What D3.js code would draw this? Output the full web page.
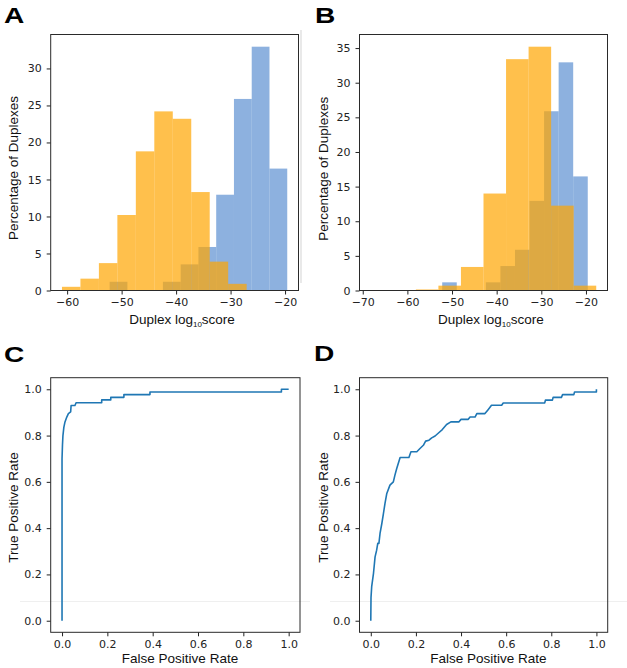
<!DOCTYPE html>
<html>
<head>
<meta charset="utf-8">
<script src="https://cdn.jsdelivr.net/npm/d3@7"></script>
<style>
  html, body { margin: 0; padding: 0; background: #fff; }
  svg { display: block; }
</style>
</head>
<body>
<svg id="chart" width="627" height="668"></svg>
<script>
// ---------- DATA ----------
// Panel A histograms (percent of duplexes per bin)
const blueEdgesA = [-52.2, -19.6];
const blueValuesA = [1.18, 0, 0, 1.18, 3.53, 5.88, 12.94, 25.88, 32.94, 16.47];
const orangeEdgesA = [-60.95, -27.05];
const orangeValuesA = [0.5, 1.6, 3.7, 10.2, 18.8, 24.2, 23.2, 13.3, 3.9, 0.9];
const xTicksA = [-60, -50, -40, -30, -20];
const yTicksA = [0, 5, 10, 15, 20, 25, 30];

// Panel B histograms
const blueEdgesB = [-52.2, -19.6];
const blueValuesB = [1.18, 0, 0, 1.18, 3.53, 5.88, 12.94, 25.88, 32.94, 16.47];
const orangeEdgesB = [-68.2, -17.7];
const orangeValuesB = [0, 0, 0.15, 0.7, 3.4, 14.0, 33.4, 35.2, 12.25, 0.7];
const xTicksB = [-70, -60, -50, -40, -30, -20];
const yTicksB = [0, 5, 10, 15, 20, 25, 30, 35];

// Panel C ROC curve
const fprC = [0, 0, 0.002, 0.004, 0.008, 0.013, 0.021, 0.028, 0.038, 0.040, 0.057, 0.062, 0.175, 0.175, 0.215, 0.215, 0.273, 0.273, 0.388, 0.388, 0.968, 0.968, 1.0];
const tprC = [0, 0.70, 0.76, 0.80, 0.835, 0.859, 0.88, 0.895, 0.902, 0.93, 0.93, 0.942, 0.942, 0.954, 0.954, 0.965, 0.965, 0.977, 0.977, 0.988, 0.988, 1.0, 1.0];

// Panel D ROC curve
const fprD = [0, 0.001, 0.004, 0.012, 0.019, 0.026, 0.031, 0.036, 0.041, 0.049, 0.056, 0.063, 0.071, 0.085, 0.10, 0.107, 0.115, 0.13, 0.169, 0.178, 0.204, 0.218, 0.233, 0.243, 0.258, 0.27, 0.285, 0.30, 0.317, 0.336, 0.355, 0.39, 0.40, 0.432, 0.44, 0.462, 0.47, 0.506, 0.52, 0.535, 0.58, 0.587, 0.771, 0.774, 0.805, 0.808, 0.845, 0.85, 0.90, 0.903, 1.0, 1.0];
const tprD = [0, 0.10, 0.147, 0.205, 0.276, 0.305, 0.334, 0.334, 0.377, 0.42, 0.463, 0.507, 0.55, 0.586, 0.60, 0.629, 0.658, 0.705, 0.705, 0.73, 0.73, 0.744, 0.758, 0.776, 0.78, 0.79, 0.798, 0.811, 0.826, 0.848, 0.859, 0.859, 0.87, 0.87, 0.88, 0.88, 0.895, 0.895, 0.912, 0.931, 0.931, 0.941, 0.941, 0.953, 0.953, 0.965, 0.965, 0.977, 0.977, 0.988, 0.988, 1.0];
const rocTicks = [0, 0.2, 0.4, 0.6, 0.8, 1.0];

// ---------- STYLE ----------
const BLUE = "rgb(92,144,210)";
const ORANGE = "rgb(255,165,0)";
const ALPHA = 0.7;
const LINE = "#1f77b4";
const TICKFONT = "'DejaVu Sans', sans-serif";
const LABELFONT = "'Liberation Sans', Arial, sans-serif";

const svg = d3.select("#chart");

// faint scan artefact lines from the reference
svg.append("line").attr("x1", 301).attr("x2", 301).attr("y1", 30).attr("y2", 283)
  .attr("stroke", "#e2e2e2").attr("stroke-width", 1.5);
svg.append("line").attr("x1", 20).attr("x2", 310).attr("y1", 601.5).attr("y2", 601.5)
  .attr("stroke", "#efefef").attr("stroke-width", 1);
svg.append("line").attr("x1", 330).attr("x2", 627).attr("y1", 601.5).attr("y2", 601.5)
  .attr("stroke", "#efefef").attr("stroke-width", 1);

function binsFrom(edges, values) {
  const [lo, hi] = edges;
  const w = (hi - lo) / values.length;
  return values.map((v, i) => ({ x0: lo + i * w, x1: lo + (i + 1) * w, v }));
}

function styleAxis(g) {
  g.select(".domain").remove();
  g.selectAll(".tick line").attr("stroke", "#222").attr("stroke-width", 1);
  g.selectAll(".tick text").attr("fill", "#222").style("font-family", TICKFONT).style("font-size", "11px");
}

function frame(box) {
  svg.append("rect").attr("x", box.l).attr("y", box.t)
    .attr("width", box.r - box.l).attr("height", box.b - box.t)
    .attr("fill", "none").attr("stroke", "#2a2a2a").attr("stroke-width", 1);
}

function panelLetter(txt, x, y) {
  svg.append("text").attr("transform", `translate(${x},${y}) scale(1.25,1)`)
    .style("font-family", LABELFONT).style("font-weight", "bold").style("font-size", "22.5px")
    .attr("fill", "#000").text(txt);
}

function yLabel(txt, x, y) {
  svg.append("text").attr("transform", `translate(${x},${y}) rotate(-90)`)
    .attr("text-anchor", "middle").style("font-family", LABELFONT).style("font-size", "13.5px")
    .attr("fill", "#111").text(txt);
}

function xLabelScore(x, y) {
  const t = svg.append("text").attr("x", x).attr("y", y).attr("text-anchor", "middle")
    .style("font-family", LABELFONT).style("font-size", "13.5px").attr("fill", "#111");
  t.append("tspan").text("Duplex log");
  t.append("tspan").attr("dy", 3).style("font-size", "8px").text("10");
  t.append("tspan").attr("dy", -3).text("score");
}

function xLabel(txt, x, y) {
  svg.append("text").attr("x", x).attr("y", y).attr("text-anchor", "middle")
    .style("font-family", LABELFONT).style("font-size", "13.5px").attr("fill", "#111").text(txt);
}

function histPanel(box, blueEdges, blueValues, orangeEdges, orangeValues, xTicks, yTicks) {
  const bb = binsFrom(blueEdges, blueValues);
  const ob = binsFrom(orangeEdges, orangeValues);
  const lo = Math.min(blueEdges[0], orangeEdges[0]);
  const hi = Math.max(blueEdges[1], orangeEdges[1]);
  const pad = (hi - lo) * 0.05;
  const x = d3.scaleLinear().domain([lo - pad, hi + pad]).range([box.l, box.r]);
  const ymax = d3.max(blueValues.concat(orangeValues)) * 1.05;
  const y = d3.scaleLinear().domain([0, ymax]).range([box.b, box.t]);

  const draw = (bins, color) => {
    svg.append("g").selectAll("rect").data(bins.filter(d => d.v > 0)).join("rect")
      .attr("x", d => x(d.x0)).attr("width", d => x(d.x1) - x(d.x0))
      .attr("y", d => y(d.v)).attr("height", d => y(0) - y(d.v))
      .attr("fill", color).attr("fill-opacity", ALPHA);
  };
  draw(bb, BLUE);
  draw(ob, ORANGE);

  svg.append("g").attr("transform", `translate(0,${box.b})`)
    .call(d3.axisBottom(x).tickValues(xTicks).tickSize(4).tickPadding(4).tickFormat(d3.format("d")))
    .call(styleAxis);
  svg.append("g").attr("transform", `translate(${box.l},0)`)
    .call(d3.axisLeft(y).tickValues(yTicks).tickSize(4).tickPadding(5).tickFormat(d3.format("d")))
    .call(styleAxis);
  frame(box);
}

function rocPanel(box, fpr, tpr) {
  const x = d3.scaleLinear().domain([-0.05, 1.05]).range([box.l, box.r]);
  const y = d3.scaleLinear().domain([-0.05, 1.05]).range([box.b, box.t]);
  const pts = fpr.map((f, i) => [f, tpr[i]]);
  svg.append("path").datum(pts)
    .attr("d", d3.line().x(d => x(d[0])).y(d => y(d[1])))
    .attr("fill", "none").attr("stroke", LINE).attr("stroke-width", 1.6)
    .attr("stroke-linejoin", "round");
  svg.append("g").attr("transform", `translate(0,${box.b})`)
    .call(d3.axisBottom(x).tickValues(rocTicks).tickSize(4).tickPadding(3.5).tickFormat(d3.format(".1f")))
    .call(styleAxis);
  svg.append("g").attr("transform", `translate(${box.l},0)`)
    .call(d3.axisLeft(y).tickValues(rocTicks).tickSize(4).tickPadding(5).tickFormat(d3.format(".1f")))
    .call(styleAxis);
  frame(box);
}

// ---------- PANELS ----------
const boxA = { l: 50.7, r: 298.5, t: 34.5, b: 290.5 };
const boxB = { l: 359.5, r: 607.5, t: 34.5, b: 290.5 };
const boxC = { l: 50.7, r: 300, t: 377.7, b: 632.3 };
const boxD = { l: 359.5, r: 607.7, t: 377.7, b: 632.3 };

histPanel(boxA, blueEdgesA, blueValuesA, orangeEdgesA, orangeValuesA, xTicksA, yTicksA);
histPanel(boxB, blueEdgesB, blueValuesB, orangeEdgesB, orangeValuesB, xTicksB, yTicksB);
rocPanel(boxC, fprC, tprC);
rocPanel(boxD, fprD, tprD);

panelLetter("A", 4, 22.7);
panelLetter("B", 315, 22.7);
panelLetter("C", 4, 361.7);
panelLetter("D", 314, 361.2);

yLabel("Percentage of Duplexes", 18, 168);
yLabel("Percentage of Duplexes", 328, 168.7);
yLabel("True Positive Rate", 18, 507.5);
yLabel("True Positive Rate", 328, 507.5);

xLabelScore(182, 323.5);
xLabelScore(490.8, 323.5);
xLabel("False Positive Rate", 180, 663);
xLabel("False Positive Rate", 488.3, 663);
</script>
</body>
</html>
